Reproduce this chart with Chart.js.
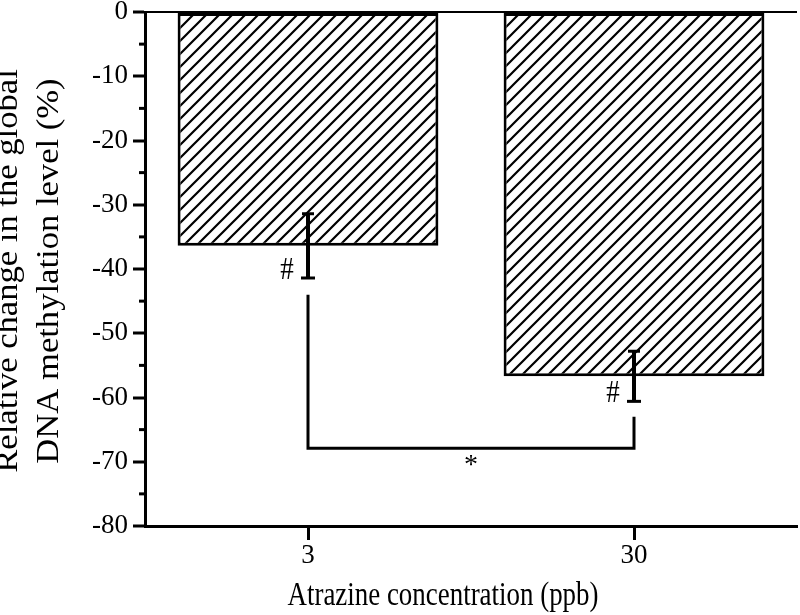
<!DOCTYPE html>
<html>
<head>
<meta charset="utf-8">
<script src="https://cdn.jsdelivr.net/npm/chart.js@4"></script>
<style>
  html, body { margin: 0; padding: 0; background: #fff; }
</style>
</head>
<body>
<canvas id="dnaChart" width="800" height="615"></canvas>
<script>
// Data
const concentrations = ['3', '30'];          // ppb
const changes = [-36.4, -56.7];              // relative change (%)
const errors = [5.0, 3.9];                   // +/- error
const marks = ['#', '#'];
const yTicks = { min: -80, max: 0, step: 10, minorStep: 5 };
// significance bracket between the two groups (values in %)
const bracketStart = [-44.0, -63.0];
const bracketLevel = -67.9;
const bracketLabel = '*';
const yTitle = ['Relative change in the global', 'DNA methylation level (%)'];
const xTitle = 'Atrazine concentration (ppb)';

const serif = '"Liberation Serif", "Times New Roman", serif';

// diagonal hatch fill for the bars
function makeHatch() {
    const s = 13;
    const c = document.createElement('canvas');
    c.width = s; c.height = s;
    const g = c.getContext('2d');
    g.fillStyle = '#fff';
    g.fillRect(0, 0, s, s);
    g.strokeStyle = '#000';
    g.lineWidth = 2.2;
    g.beginPath();
    g.moveTo(-1, s + 1); g.lineTo(s + 1, -1);
    g.moveTo(-2, 2); g.lineTo(2, -2);
    g.moveTo(s - 2, s + 2); g.lineTo(s + 2, s - 2);
    g.stroke();
    return g.createPattern(c, 'repeat');
}

function seg(ctx, x1, y1, x2, y2) {
    ctx.beginPath();
    ctx.moveTo(x1, y1);
    ctx.lineTo(x2, y2);
    ctx.stroke();
}

// text squeezed/stretched a little, like the printed figure
function stretchedText(ctx, text, x, y, rot, sx, sy) {
    ctx.save();
    ctx.translate(x, y);
    ctx.rotate(rot);
    ctx.scale(sx, sy);
    ctx.fillText(text, 0, 0);
    ctx.restore();
}

// error bars, # marks, bracket, minor ticks and the axis titles
const extras = {
    id: 'extras',
    afterDraw(chart) {
        const { ctx, scales: { x, y } } = chart;
        ctx.save();
        ctx.strokeStyle = '#000';
        ctx.fillStyle = '#000';

        // minor ticks on the y axis
        ctx.lineWidth = 3;
        for (let v = yTicks.min + yTicks.minorStep; v < yTicks.max; v += yTicks.step) {
            const py = y.getPixelForValue(v);
            seg(ctx, x.left - 6, py, x.left, py);
        }

        // error bars
        changes.forEach((v, i) => {
            const px = x.getPixelForValue(i);
            const top = y.getPixelForValue(v + errors[i]);
            const bot = y.getPixelForValue(v - errors[i]);
            ctx.lineWidth = 4;
            seg(ctx, px, top, px, bot);
            ctx.lineWidth = 3;
            seg(ctx, px - 6, top, px + 6, top);
            seg(ctx, px - 7, bot, px + 7, bot);

            ctx.font = '27px ' + serif;
            ctx.textAlign = 'center';
            ctx.textBaseline = 'alphabetic';
            stretchedText(ctx, marks[i], px - 21, bot + 1, 0, 1, 1.2);
        });

        // bracket
        const x0 = x.getPixelForValue(0);
        const x1 = x.getPixelForValue(1);
        const yb = y.getPixelForValue(bracketLevel);
        ctx.lineWidth = 3;
        ctx.beginPath();
        ctx.moveTo(x0, y.getPixelForValue(bracketStart[0]));
        ctx.lineTo(x0, yb);
        ctx.lineTo(x1, yb);
        ctx.lineTo(x1, y.getPixelForValue(bracketStart[1]));
        ctx.stroke();
        ctx.font = '28px ' + serif;
        ctx.textAlign = 'center';
        ctx.textBaseline = 'alphabetic';
        ctx.fillText(bracketLabel, (x0 + x1) / 2, yb + 25);

        // y axis title, two centred lines
        ctx.font = '31px ' + serif;
        ctx.textBaseline = 'middle';
        const cy = (y.top + y.bottom) / 2 + 2;
        [9, 50].forEach((cx, i) => {
            stretchedText(ctx, yTitle[i], cx, cy, -Math.PI / 2, 1.116, 1);
        });

        // x axis title
        ctx.font = '27px ' + serif;
        ctx.textBaseline = 'middle';
        const sxT = 311 / ctx.measureText(xTitle).width;
        stretchedText(ctx, xTitle, 443, 596, 0, sxT, 1.25);
        ctx.restore();
    }
};

const ctx = document.getElementById('dnaChart').getContext('2d');
const dnaChart = new Chart(ctx, {
    type: 'bar',
    data: {
        labels: concentrations,
        datasets: [{
            data: changes,
            backgroundColor: makeHatch(),
            borderColor: '#000',
            borderWidth: 3,
            borderSkipped: false,
            barPercentage: 0.8,
            categoryPercentage: 1.0
        }]
    },
    options: {
        responsive: false,
        animation: false,
        layout: { padding: { top: 12, right: 3, left: 0, bottom: 0 } },
        plugins: {
            legend: { display: false },
            tooltip: { enabled: false }
        },
        scales: {
            x: {
                offset: true,
                border: { display: true, color: '#000', width: 3 },
                grid: {
                    offset: false,
                    drawOnChartArea: false,
                    tickLength: 14,
                    tickWidth: 3,
                    tickColor: '#000'
                },
                ticks: { color: '#000', padding: 0, font: { family: serif, size: 27 } },
                title: { display: false, text: xTitle },
                afterFit(scale) { scale.height = 89; }
            },
            y: {
                min: yTicks.min,
                max: yTicks.max,
                border: { display: true, color: '#000', width: 3 },
                grid: {
                    drawOnChartArea: true,
                    color: c => (c.tick && c.tick.value === yTicks.max) ? '#000' : 'rgba(0,0,0,0)',
                    lineWidth: c => (c.tick && c.tick.value === yTicks.max) ? 2 : 0,
                    tickLength: 12,
                    tickWidth: 3,
                    tickColor: '#000'
                },
                ticks: {
                    stepSize: yTicks.step,
                    color: '#000',
                    padding: 5,
                    font: { family: serif, size: 27, lineHeight: 0.5 }
                },
                title: { display: false, text: yTitle },
                afterFit(scale) { scale.width = 145; }
            }
        }
    },
    plugins: [extras]
});
</script>
</body>
</html>
